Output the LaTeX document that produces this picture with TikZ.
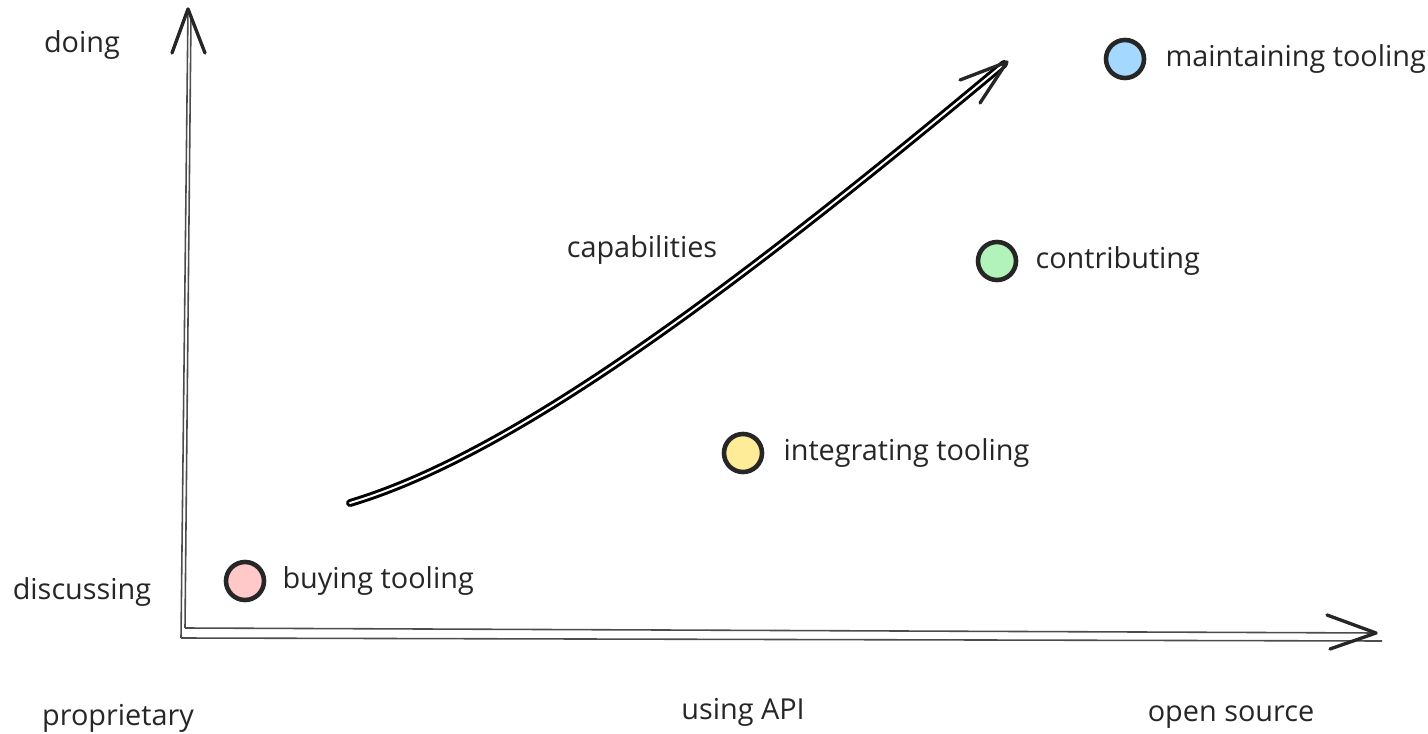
\documentclass[tikz,border=0pt]{standalone}
\usepackage{fontspec}
\setmainfont{Open Sans}
\usetikzlibrary{positioning}
\definecolor{buycol}{HTML}{FFC9C9}
\definecolor{intcol}{HTML}{FFEC99}
\definecolor{concol}{HTML}{B2F2BB}
\definecolor{maicol}{HTML}{A5D8FF}
\tikzstyle{dot} = [circle, draw=black!85, line width=1.3pt, minimum size=0.38cm, inner sep=0pt]
\tikzstyle{lbl} = [font=\fontsize{8.2}{10}\selectfont, text=black!85, inner sep=1pt]
\tikzstyle{axisline} = [draw=black!70, line width=0.45pt]
\tikzstyle{capline} = [draw=black, line width=0.85pt, double=white, double distance=0.55pt, line cap=round]
\tikzstyle{head} = [draw=black!85, line width=0.95pt, line cap=round, line join=round]

\begin{document}
\begin{tikzpicture}[x=0.01cm, y=-0.01cm]
  \useasboundingbox (0,0) rectangle (1428,734);
  % axes ends
  \coordinate (orig) at (181,638);
  \coordinate (origb) at (185,628);
  \coordinate (ytip) at (188,9);
  \coordinate (ytipb) at (191,16);
  \coordinate (xtip) at (1376,633);
  \coordinate (xtipb) at (1382,641);
  \draw [axisline] (orig) -- (ytip);
  \draw [axisline] (origb) -- (ytipb);
  \draw [axisline] (origb) -- (xtip);
  \draw [axisline] (orig) -- (xtipb);
  \draw [head] (172,53) -- (ytip) -- (205,53);
  \draw [head] (1327,615) -- (xtip) -- (1330,649);
  % axis labels
  \node (doing) [lbl] at (82,45) {doing};
  \node (discussing) [lbl] at (82,592) {discussing};
  \node (proprietary) [lbl] at (118,718) {proprietary};
  \node (usingapi) [lbl] at (743,712) {using API};
  \node (opensource) [lbl] at (1231,717) {open source};
  % capabilities arrow
  \coordinate (capstart) at (350,503);
  \coordinate (captip) at (1004,64);
  \draw [capline] (capstart) .. controls (500,458) and (700,318) .. (captip);
  \draw [head] (960,80) -- (1007,62) -- (980,103);
  \node (capabilities) [lbl] at (642,250) {capabilities};
  % points
  \node (buy) [dot, fill=buycol] at (245,581) {};
  \node (int) [dot, fill=intcol] at (743,453) {};
  \node (con) [dot, fill=concol] at (997,261) {};
  \node (mai) [dot, fill=maicol] at (1125,59) {};
  \node (buylbl) [lbl, right=0.12cm of buy] {buying tooling};
  \node (intlbl) [lbl, right=0.15cm of int] {integrating tooling};
  \node (conlbl) [lbl, right=0.13cm of con] {contributing};
  \node (mailbl) [lbl, right=0.15cm of mai] {maintaining tooling};
\end{tikzpicture}
\end{document}
